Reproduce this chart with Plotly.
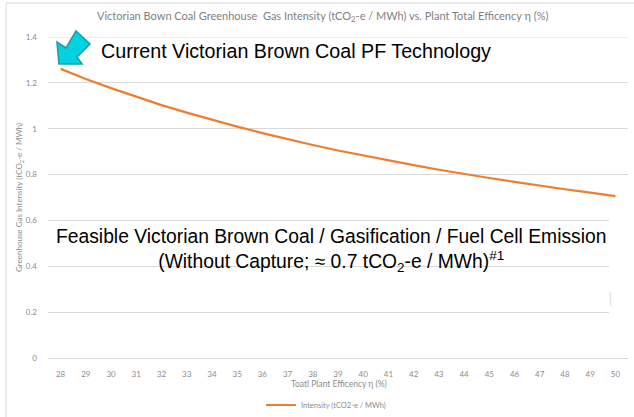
import plotly.graph_objects as go

# Plant total efficiency (%) and the matching greenhouse gas intensity
efficiency = ["28", "29", "30", "31", "32", "33", "34", "35", "36", "37", "38", "39",
              "40", "41", "42", "43", "44", "45", "46", "47", "48", "49", "50"]
intensity = [1.261, 1.217, 1.177, 1.139, 1.103, 1.070, 1.038, 1.009, 0.981, 0.954,
             0.929, 0.905, 0.883, 0.861, 0.841, 0.821, 0.802, 0.785, 0.768, 0.751,
             0.736, 0.721, 0.706]
y_ticks = [0, 0.2, 0.4, 0.6, 0.8, 1, 1.2, 1.4]
y_tick_text = ["0", "0.2", "0.4", "0.6", "0.8", "1", "1.2", "1.4"]

W, H = 634, 417
L, R, T, B = 48, 6, 37, 59
PW, PH = W - L - R, H - T - B


def px(x):
    return (x - L) / PW


def py(y):
    return (H - B - y) / PH


GRID = "#d9d9d9"
TXT = "#8c8c8c"

fig = go.Figure()
fig.add_trace(go.Scatter(
    x=efficiency, y=intensity, mode="lines",
    name="Intensity (tCO2-e / MWh)",
    line=dict(color="#ED7D31", width=2.2),
))

shapes = []
# top gridline at the upper edge of the value range
shapes.append(dict(type="line", xref="paper", yref="y", x0=0, x1=1,
                   y0=y_ticks[-1], y1=y_ticks[-1], line=dict(color=GRID, width=1),
                   layer="below"))
# block arrow pointing at the first point of the curve
arrow_pts = [(59, 64), (57, 42), (66, 48), (76, 31), (90, 44), (77, 57), (82, 64)]
path = "M " + " L ".join(f"{px(x):.5f},{py(y):.5f}" for x, y in arrow_pts) + " Z"
shapes.append(dict(type="path", xref="paper", yref="paper", path=path,
                   fillcolor="#00D2E0", line=dict(color="#1E9EA8", width=1.6),
                   layer="above"))
# blank panel at the right edge
shapes.append(dict(type="rect", xref="paper", yref="paper",
                   x0=px(609), x1=px(640), y0=py(345), y1=py(205),
                   fillcolor="white", line=dict(width=0), layer="above"))
shapes.append(dict(type="line", xref="paper", yref="paper",
                   x0=px(610.5), x1=px(610.5), y0=py(306), y1=py(292),
                   line=dict(color="#e4e4e4", width=1.5), layer="above"))
# outer frame
shapes.append(dict(type="line", xref="paper", yref="paper",
                   x0=px(6), x1=px(640), y0=py(3), y1=py(3),
                   line=dict(color=GRID, width=1)))
shapes.append(dict(type="line", xref="paper", yref="paper",
                   x0=px(6), x1=px(6), y0=py(3), y1=py(420),
                   line=dict(color=GRID, width=1)))

annotations = [
    dict(text="Victorian Bown Coal Greenhouse  Gas Intensity (tCO<sub>2</sub>-e / MWh) vs. Plant Total Efficency η (%)",
         x=px(322), y=py(17), xref="paper", yref="paper", showarrow=False,
         font=dict(family="Lato", size=11, color="#7f7f7f"), xanchor="center", yanchor="middle"),
    dict(text="Greenhouse Gas Intensity (tCO<sub>2</sub>-e / MWh)",
         x=px(20), y=py(198), xref="paper", yref="paper", showarrow=False, textangle=-90,
         font=dict(family="Lato", size=8, color=TXT), xanchor="center", yanchor="middle"),
    dict(text="Toatl Plant Efficency η (%)",
         x=px(339), y=py(384), xref="paper", yref="paper", showarrow=False,
         font=dict(family="Lato", size=8.5, color=TXT), xanchor="center", yanchor="middle"),
    dict(text="Current Victorian Brown Coal PF Technology",
         x=px(99), y=py(51), xref="paper", yref="paper", showarrow=False,
         font=dict(family="Liberation Sans", size=19.7, color="black"),
         xanchor="left", yanchor="middle"),
    dict(text="Feasible Victorian Brown Coal / Gasification / Fuel Cell Emission<br>"
              "(Without Capture; ≈ 0.7 tCO<sub>2</sub>-e / MWh)<sup>#1</sup>",
         x=px(331), y=py(250), xref="paper", yref="paper", showarrow=False,
         font=dict(family="Liberation Sans", size=19.3, color="black"),
         xanchor="center", yanchor="middle", align="center"),
]

fig.update_layout(
    width=W, height=H,
    margin=dict(l=L, r=R, t=T, b=B, autoexpand=False),
    paper_bgcolor="white", plot_bgcolor="white",
    showlegend=True,
    legend=dict(orientation="h", x=px(326), y=py(405), xanchor="center", yanchor="middle",
                font=dict(family="Lato", size=7.5, color=TXT), bgcolor="rgba(0,0,0,0)"),
    shapes=shapes,
    annotations=annotations,
)
fig.update_xaxes(type="category", range=[-0.5, len(efficiency) - 0.5],
                 showgrid=False, zeroline=False, showline=False,
                 tickfont=dict(family="Lato", size=8, color=TXT),
                 ticks="", ticklabelstandoff=10)
fig.update_yaxes(range=[0, 1.4], tickvals=y_ticks, ticktext=y_tick_text,
                 showgrid=True, gridcolor=GRID, gridwidth=1,
                 zeroline=True, zerolinecolor=GRID, zerolinewidth=1,
                 showline=False, ticks="", ticklabelstandoff=10,
                 tickfont=dict(family="Lato", size=8, color=TXT))

fig.write_html("out.html")
